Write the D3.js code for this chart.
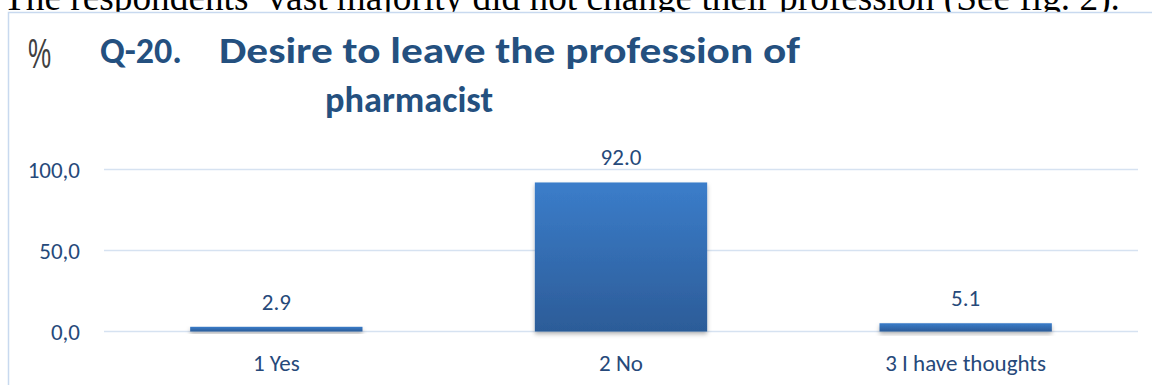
<!DOCTYPE html>
<html>
<head>
<meta charset="utf-8">
<script src="https://cdn.jsdelivr.net/npm/d3@7"></script>
<style>
  html, body { margin: 0; padding: 0; background: #fff; overflow: hidden; }
  svg { display: block; }
</style>
</head>
<body>
<div id="chart"></div>
<script>
// data
const categories = ["1 Yes", "2 No", "3 I have thoughts"];
const values = [2.9, 92.0, 5.1];
const yTicks = [0, 50, 100];

const width = 1152;
const height = 385;
const textBlue = "#26497a";
const titleBlue = "#24507f";
const font = "Carlito, Lato, 'Open Sans', sans-serif";

const svg = d3.select("#chart")
  .append("svg")
  .attr("width", width)
  .attr("height", height);

// shrink/grow a text so that it fills a given width
function fitText(sel, targetW) {
  const node = sel.node();
  const size = parseFloat(sel.attr("font-size"));
  const w = node.getComputedTextLength();
  sel.attr("font-size", size * targetW / w);
}

const defs = svg.append("defs");
const grad = defs.append("linearGradient")
  .attr("id", "barGrad")
  .attr("x1", 0).attr("y1", 0).attr("x2", 0).attr("y2", 1);
grad.append("stop").attr("offset", "0%").attr("stop-color", "#3b7dca");
grad.append("stop").attr("offset", "100%").attr("stop-color", "#2c5c98");

const shadow = defs.append("filter")
  .attr("id", "shadow")
  .attr("x", "-10%").attr("y", "-10%")
  .attr("width", "120%").attr("height", "160%");
shadow.append("feDropShadow")
  .attr("dx", 0).attr("dy", 2.5)
  .attr("stdDeviation", 2)
  .attr("flood-color", "#000")
  .attr("flood-opacity", 0.3);

// body text of the page, cut off at the top like in the scan
const bodyText = svg.append("text")
  .attr("x", 3)
  .attr("y", 10)
  .attr("font-family", "'Liberation Serif', 'Times New Roman', serif")
  .attr("font-size", 30)
  .attr("fill", "#000")
  .text("The respondents’ vast majority did not change their profession (See fig. 2).");
fitText(bodyText, 1117);

// chart frame (runs past the right and bottom edge)
svg.append("rect")
  .attr("x", 8.5)
  .attr("y", 12.5)
  .attr("width", 1200)
  .attr("height", 400)
  .attr("fill", "#fff")
  .attr("stroke", "#c8d9ef")
  .attr("stroke-width", 1.5);

// title
svg.append("text")
  .attr("x", 28)
  .attr("y", 68)
  .attr("font-family", "'Liberation Sans', Arial, sans-serif")
  .attr("font-size", 42)
  .attr("fill", "#404040")
  .attr("transform", "translate(28,0) scale(0.62,1) translate(-28,0)")
  .text("%");

const titleParts = [
  { text: "Q-20.", x: 100, y: 63, w: 82 },
  { text: "Desire to leave the profession of", x: 219, y: 63, w: 581 },
  { text: "pharmacist", x: 325, y: 112, w: 168 }
];

svg.append("g")
  .selectAll("text")
  .data(titleParts)
  .join("text")
  .attr("x", (d) => d.x)
  .attr("y", (d) => d.y)
  .attr("font-family", font)
  .attr("font-weight", "bold")
  .attr("font-size", 37)
  .attr("fill", titleBlue)
  .attr("textLength", (d) => d.w)
  .attr("lengthAdjust", "spacingAndGlyphs")
  .text((d) => d.text);

// scales
const x = d3.scaleBand()
  .domain(categories)
  .range([104, 1138])
  .paddingInner(0.5)
  .paddingOuter(0.25);

const y = d3.scaleLinear()
  .domain([0, 100])
  .range([331.5, 169.5]);

// gridlines
svg.append("g")
  .selectAll("line")
  .data(yTicks)
  .join("line")
  .attr("x1", 104)
  .attr("x2", 1138)
  .attr("y1", (d) => y(d))
  .attr("y2", (d) => y(d))
  .attr("stroke", "#d6e2f1")
  .attr("stroke-width", 1.5);

// y axis labels
svg.append("g")
  .selectAll("text")
  .data(yTicks)
  .join("text")
  .attr("x", 80)
  .attr("y", (d) => y(d))
  .attr("dy", "0.36em")
  .attr("text-anchor", "end")
  .attr("font-family", font)
  .attr("font-size", 23)
  .attr("fill", textBlue)
  .text((d) => d3.format(".1f")(d).replace(".", ","));

// bars
svg.append("g")
  .selectAll("rect")
  .data(values)
  .join("rect")
  .attr("x", (d, i) => x(categories[i]))
  .attr("width", x.bandwidth())
  .attr("y", (d) => y(d))
  .attr("height", (d) => y(0) - y(d))
  .attr("fill", "url(#barGrad)")
  .attr("filter", "url(#shadow)");

// value labels
svg.append("g")
  .selectAll("text")
  .data(values)
  .join("text")
  .attr("x", (d, i) => x(categories[i]) + x.bandwidth() / 2)
  .attr("y", (d) => y(d) - 17)
  .attr("text-anchor", "middle")
  .attr("font-family", font)
  .attr("font-size", 23)
  .attr("fill", textBlue)
  .text((d) => d.toFixed(1));

// category labels
svg.append("g")
  .selectAll("text")
  .data(categories)
  .join("text")
  .attr("x", (d) => x(d) + x.bandwidth() / 2)
  .attr("y", 371)
  .attr("text-anchor", "middle")
  .attr("font-family", font)
  .attr("font-size", 23)
  .attr("fill", textBlue)
  .text((d) => d);
</script>
</body>
</html>
